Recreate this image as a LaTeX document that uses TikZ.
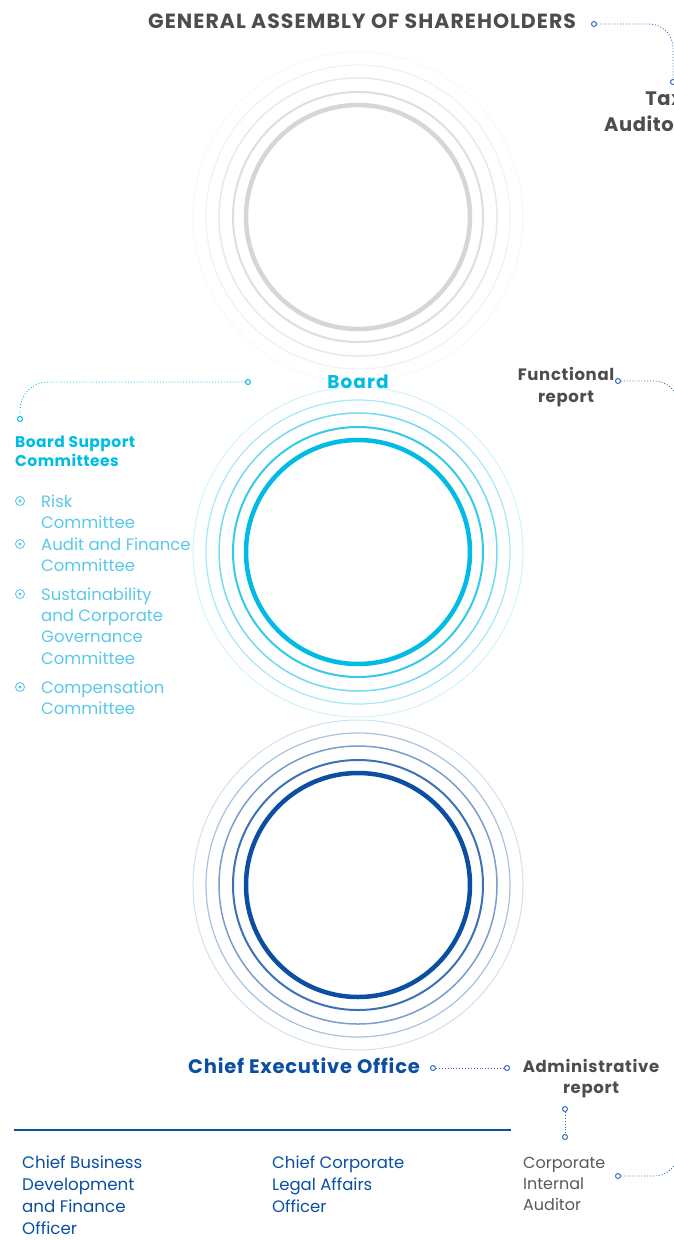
\documentclass[tikz,border=0pt]{standalone}
\usepackage{fontspec}
\setmainfont{Poppins}
\usetikzlibrary{positioning,calc}
\definecolor{GAgrey}{HTML}{4D4D4F}
\definecolor{RingGrey}{HTML}{D5D6D8}
\definecolor{BoardCyan}{HTML}{00BCE4}
\definecolor{ListCyan}{HTML}{5AC8EC}
\definecolor{CEOblue}{HTML}{0B4EA2}
\definecolor{LinkBlue}{HTML}{2E6BC0}
\definecolor{TextGrey}{HTML}{58595B}

\tikzset{
  link/.style={dotted, line width=0.9pt, LinkBlue},
  dot/.style={circle, draw=#1, fill=white, line width=1pt, inner sep=0pt, minimum size=5pt},
  dot/.default=LinkBlue,
  lbl/.style={inner sep=0pt, align=left, anchor=north west},
  bullet/.style={circle, draw=ListCyan, line width=0.9pt, inner sep=0pt, minimum size=9pt,
    path picture={\fill[ListCyan] (path picture bounding box.center) circle (1.7pt);}},
}

\begin{document}
\begin{tikzpicture}[x=1pt,y=-1pt]
\useasboundingbox (0,0) rectangle (674,1240);

% three ring groups
\coordinate (gac) at (358,217);
\coordinate (boc) at (358,552);
\coordinate (cec) at (358,885);
\foreach \c/\col in {gac/RingGrey,boc/BoardCyan,cec/CEOblue}{
  \foreach \r/\w/\p in {112/4.5/100,125/2/80,139/1.5/55,152/1.2/35,165/1/18}{
    \draw[\col!\p, line width=\w pt] (\c) circle[radius=\r];
  }
}

% top
\node[font=\bfseries\fontsize{20.5}{24}\selectfont\addfontfeature{LetterSpace=5}, GAgrey, anchor=base west, inner sep=0pt] (gash) at (148,28) {GENERAL ASSEMBLY OF SHAREHOLDERS};
\node[dot] (gadot) at (594,24) {};
\node[dot] (taxdot) at (673,82) {};
\draw[link, rounded corners=24pt] (gadot) -| (taxdot);
\node[font=\bfseries\fontsize{19.5}{26}\selectfont\addfontfeature{LetterSpace=3}, GAgrey, align=right, anchor=north east, inner sep=0pt] (taxaud) at (683,92) {Tax\\Auditor};

% board
\node[font=\bfseries\fontsize{18.5}{22}\selectfont\addfontfeature{LetterSpace=6}, BoardCyan, anchor=base, inner sep=0pt] (board) at (358,388) {Board};
\node[font=\bfseries\fontsize{16.5}{22}\selectfont\addfontfeature{LetterSpace=4}, GAgrey, align=center, anchor=north, inner sep=0pt] (fnrep) at (566,367) {Functional\\report};
\node[dot] (fndot) at (618,381) {};
\coordinate (fnend) at (679,460);
\draw[link, rounded corners=25pt] (fndot) -| (fnend);

\node[dot=BoardCyan] (bsdot1) at (248,382) {};
\node[dot=BoardCyan] (bsdot2) at (20,419) {};
\draw[link, BoardCyan, rounded corners=28pt] (bsdot1) -| (bsdot2);
\node[lbl, font=\bfseries\fontsize{15.5}{19}\selectfont\addfontfeature{LetterSpace=3}, BoardCyan] (bsc) at (15,436) {Board Support\\Committees};

% committees
\foreach \nm/\y/\txt in {risk/507/{Risk\\Committee},
                        audfin/550/{Audit and Finance\\Committee},
                        sust/600/{Sustainability\\and Corporate\\Governance\\Committee},
                        comp/693/{Compensation\\Committee}}{
  \node[bullet] (\nm b) at (20,\y-6) {};
  \node[lbl, font=\fontsize{16.5}{21.3}\selectfont, ListCyan] (\nm) at (41,\y-12.5) {\txt};
}

% CEO
\node[font=\bfseries\fontsize{19.5}{24}\selectfont\addfontfeature{LetterSpace=4}, CEOblue, anchor=base west, inner sep=0pt] (ceo) at (188,1073) {Chief Executive Office};
\node[dot] (ceodot1) at (433,1068) {};
\node[dot] (ceodot2) at (507,1068) {};
\draw[link] (ceodot1) -- (ceodot2);
\node[font=\bfseries\fontsize{16.5}{21.5}\selectfont\addfontfeature{LetterSpace=4}, GAgrey, align=center, anchor=north, inner sep=0pt] (admrep) at (591,1059) {Administrative\\report};
\node[dot] (ardot1) at (565,1109) {};
\node[dot] (ardot2) at (565,1137) {};
\draw[link] (ardot1) -- (ardot2);

\coordinate (hl1) at (14,1130);
\coordinate (hl2) at (511,1130);
\draw[CEOblue, line width=1.2pt] (hl1) -- (hl2);

% officers
\node[lbl, font=\fontsize{16.7}{22}\selectfont, CEOblue] (cbdfo) at (22,1156) {Chief Business\\Development\\and Finance\\Officer};
\node[lbl, font=\fontsize{16.5}{22}\selectfont, CEOblue] (cclao) at (272,1156) {Chief Corporate\\Legal Affairs\\Officer};
\node[lbl, font=\fontsize{16}{21}\selectfont, TextGrey] (cia) at (523,1157) {Corporate\\Internal\\Auditor};
\node[dot] (ciadot) at (618,1176) {};
\coordinate (ciaend) at (679,1120);
\draw[link, rounded corners=25pt] (ciadot) -| (ciaend);
\end{tikzpicture}
\end{document}
